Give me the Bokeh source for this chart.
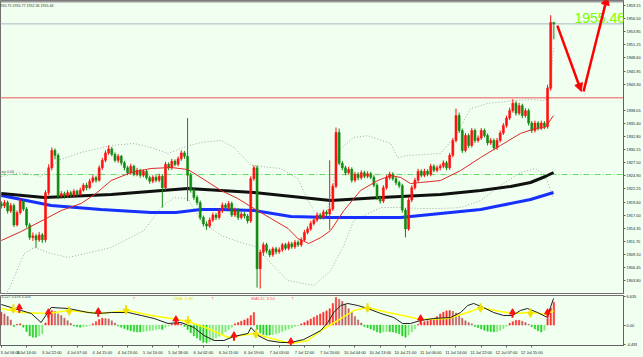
from bokeh.plotting import figure
from bokeh.layouts import column
from bokeh.models import (Range1d, FixedTicker, NumeralTickFormatter, Label, Arrow,
                          NormalHead, BoxAnnotation, ColumnDataSource)
from bokeh.embed import file_html
from bokeh.resources import INLINE

BG = "#F0FFF0"
FONT = "Liberation Sans"

# ---------------- data (bar index, prices) ----------------
first_open = 1919.3
closes = [1918.8, 1919.5, 1917.8, 1918.9, 1915.0, 1917.5, 1919.8, 1918.2, 1915.0, 1912.5,
          1912.8, 1912.0, 1913.0, 1912.0, 1921.5, 1926.5, 1930.0, 1929.0, 1920.8, 1921.3,
          1920.8, 1921.5, 1921.0, 1921.8, 1921.2, 1922.0, 1923.0, 1922.5, 1923.8, 1924.5,
          1924.0, 1926.5, 1928.0, 1929.5, 1930.3, 1929.2, 1928.0, 1928.8, 1927.5, 1926.5,
          1925.5, 1926.8, 1925.2, 1926.0, 1925.0, 1925.8, 1924.5, 1923.8, 1924.6, 1924.0,
          1924.8, 1922.5, 1927.2, 1926.5, 1927.8, 1927.2, 1928.3, 1929.5, 1928.8, 1925.0,
          1922.0, 1920.5, 1919.5, 1916.5, 1915.2, 1914.8, 1916.0, 1917.0, 1916.5, 1917.8,
          1919.0, 1918.5, 1919.3, 1917.0, 1918.0, 1916.5, 1917.2, 1916.8, 1915.8, 1924.3,
          1926.5, 1906.2, 1909.5, 1911.0, 1909.8, 1909.0, 1910.2, 1909.6, 1910.0, 1911.0,
          1910.3, 1911.2, 1910.6, 1911.5, 1911.0, 1912.0, 1913.5, 1914.2, 1915.3, 1916.0,
          1917.0, 1916.5, 1917.6, 1917.2, 1918.2, 1922.8, 1933.6, 1927.4, 1926.5, 1925.5,
          1926.2, 1924.0, 1925.2, 1924.5, 1925.5, 1924.8, 1925.3, 1924.6, 1923.0, 1920.5,
          1919.8, 1922.5, 1924.5, 1925.2, 1924.3, 1923.5, 1922.9, 1918.0, 1914.2, 1920.0,
          1922.5, 1924.0, 1925.8, 1925.0, 1925.8, 1925.2, 1926.8, 1926.0, 1926.5, 1926.8,
          1927.5, 1926.5, 1929.0, 1932.0, 1937.0, 1934.0, 1930.0, 1933.0, 1931.0, 1934.0,
          1932.0, 1932.5, 1934.0, 1933.0, 1931.5, 1932.0, 1930.5, 1932.0, 1933.5, 1935.0,
          1936.5, 1938.0, 1939.5, 1937.5, 1939.0, 1937.0, 1938.0, 1935.5, 1934.0, 1935.5,
          1934.5, 1935.5, 1934.8, 1942.5, 1955.75, 1955.46]
highs = [1919.8, 1920.0, 1919.9, 1919.4, 1919.3, 1917.9, 1920.3, 1920.1, 1918.6, 1915.4,
         1913.5, 1913.2, 1913.6, 1913.4, 1922.0, 1927.2, 1930.6, 1930.4, 1929.4, 1921.8,
         1921.7, 1922.0, 1921.9, 1922.2, 1922.1, 1922.5, 1923.4, 1923.5, 1924.3, 1925.0,
         1924.9, 1927.0, 1928.5, 1930.0, 1931.0, 1930.7, 1929.6, 1929.3, 1929.1, 1927.9,
         1926.9, 1927.3, 1927.1, 1926.5, 1926.3, 1926.2, 1926.1, 1924.9, 1925.0, 1925.0,
         1925.3, 1925.2, 1927.7, 1927.6, 1928.3, 1928.2, 1928.8, 1930.0, 1929.9, 1936.5,
         1925.5, 1922.4, 1921.0, 1919.9, 1916.9, 1915.7, 1916.5, 1917.5, 1917.4, 1918.3,
         1919.5, 1919.4, 1919.8, 1919.7, 1918.5, 1918.4, 1917.7, 1917.6, 1917.2, 1924.8,
         1927.0, 1927.0, 1910.0, 1911.5, 1911.4, 1910.2, 1910.6, 1910.6, 1910.5, 1911.4,
         1911.4, 1911.7, 1911.6, 1912.0, 1911.9, 1912.5, 1914.0, 1914.7, 1915.8, 1916.5,
         1917.5, 1917.4, 1918.1, 1918.0, 1928.0, 1923.3, 1934.6, 1934.4, 1927.9, 1926.9,
         1926.7, 1926.6, 1925.7, 1925.6, 1926.0, 1925.9, 1925.8, 1925.7, 1925.0, 1923.4,
         1920.9, 1923.0, 1925.0, 1925.7, 1925.6, 1924.7, 1923.9, 1923.3, 1918.4, 1920.5,
         1923.0, 1924.5, 1926.3, 1926.2, 1926.3, 1926.2, 1927.3, 1927.2, 1927.0, 1927.3,
         1928.0, 1927.9, 1929.5, 1932.5, 1938.4, 1937.6, 1934.4, 1933.5, 1933.4, 1934.5,
         1934.4, 1933.0, 1934.5, 1934.4, 1933.4, 1932.5, 1932.4, 1932.5, 1934.0, 1935.5,
         1937.0, 1938.6, 1940.3, 1939.9, 1939.6, 1939.4, 1938.5, 1938.4, 1935.9, 1936.0,
         1935.9, 1936.0, 1935.9, 1943.2, 1957.2, 1955.77]
lows = [1918.3, 1918.4, 1917.3, 1917.4, 1914.6, 1914.7, 1917.1, 1917.8, 1914.5, 1912.0,
        1911.8, 1910.4, 1911.6, 1911.4, 1911.5, 1921.0, 1926.0, 1928.2, 1920.2, 1920.3,
        1920.3, 1920.4, 1920.6, 1920.6, 1920.8, 1920.9, 1921.7, 1922.0, 1922.2, 1923.4,
        1923.5, 1923.7, 1926.1, 1927.6, 1929.1, 1928.8, 1927.6, 1927.5, 1927.0, 1926.0,
        1925.0, 1925.1, 1924.8, 1924.8, 1924.5, 1924.6, 1924.1, 1923.3, 1923.4, 1923.6,
        1923.6, 1918.5, 1922.0, 1926.0, 1926.1, 1926.8, 1926.8, 1927.9, 1928.3, 1919.8,
        1921.5, 1920.0, 1919.0, 1916.0, 1914.7, 1914.0, 1914.4, 1915.6, 1916.0, 1916.1,
        1917.4, 1918.0, 1918.1, 1916.6, 1916.6, 1916.0, 1916.1, 1916.3, 1915.3, 1915.4,
        1923.9, 1902.4, 1902.2, 1908.8, 1909.3, 1908.5, 1908.6, 1909.1, 1909.2, 1909.6,
        1909.9, 1909.9, 1910.2, 1910.2, 1910.6, 1910.6, 1911.6, 1913.1, 1913.8, 1914.9,
        1915.6, 1916.1, 1916.1, 1916.8, 1914.0, 1917.8, 1922.4, 1927.0, 1926.0, 1925.0,
        1925.1, 1923.5, 1923.6, 1924.0, 1924.1, 1924.4, 1924.4, 1924.2, 1922.6, 1920.0,
        1919.3, 1919.4, 1922.1, 1924.1, 1923.9, 1923.0, 1922.4, 1917.5, 1912.5, 1913.8,
        1919.6, 1922.1, 1923.6, 1924.6, 1924.6, 1924.8, 1924.8, 1925.6, 1925.6, 1926.0,
        1926.4, 1926.0, 1926.1, 1928.6, 1931.6, 1933.5, 1929.5, 1929.6, 1930.5, 1930.6,
        1931.5, 1931.6, 1932.1, 1932.6, 1931.0, 1931.1, 1930.0, 1930.1, 1931.6, 1933.1,
        1934.6, 1936.1, 1937.6, 1937.0, 1937.1, 1936.5, 1936.6, 1935.0, 1933.5, 1933.6,
        1934.0, 1934.1, 1934.3, 1934.4, 1942.0, 1952.36]

# moving averages / bands (bar index, price)
ma_black_x = [0, 13.6, 34.8, 59.1, 69.6, 80.0, 104.3, 120.2, 139.1, 151.8, 161.3, 167.6, 172.3, 174.9]
ma_black_y = [1921.33, 1920.52, 1921.13, 1922.33, 1921.93, 1921.53, 1919.92, 1920.52, 1921.13,
              1921.93, 1922.74, 1923.54, 1924.75, 1925.55]
ma_blue_x = [0, 15.8, 31.6, 47.4, 55.3, 63.2, 69.6, 80.0, 91.7, 104.3, 126.5, 139.1, 151.8, 158.1, 167.6, 174.9]
ma_blue_y = [1920.93, 1918.91, 1918.11, 1917.51, 1917.51, 1918.11, 1918.11, 1917.91, 1916.70,
             1916.50, 1916.50, 1917.30, 1918.11, 1918.91, 1920.12, 1921.53]
ma_red_x = [0, 6.3, 13.6, 19.0, 25.3, 30.0, 34.8, 41.1, 47.4, 53.8, 59.1, 63.2, 69.6, 74.9, 80.0,
            85.4, 90.8, 93.9, 97.4, 101.2, 104.3, 108.5, 113.8, 119.2, 123.3, 126.5, 129.6, 132.8,
            139.1, 145.5, 151.8, 158.1, 164.4, 169.2, 172.3, 174.9]
ma_red_y = [1911.87, 1913.68, 1916.10, 1917.91, 1919.32, 1921.33, 1923.94, 1925.55, 1926.36,
            1926.56, 1926.16, 1924.55, 1921.93, 1920.32, 1918.31, 1916.30, 1914.29, 1912.27,
            1911.27, 1912.48, 1913.88, 1917.91, 1921.93, 1923.94, 1924.95, 1924.55, 1923.34,
            1923.54, 1923.94, 1925.96, 1928.57, 1930.99, 1933.40, 1934.41, 1934.61, 1937.02]
bb_up_x = [0, 6.3, 12.6, 18.0, 25.3, 34.8, 42.1, 47.4, 52.8, 58.5, 63.2, 69.6, 73.7, 79.1, 88.5,
           93.9, 97.1, 99.0, 101.2, 103.1, 105.0, 106.9, 111.6, 116.0, 123.3, 125.5, 128.7, 139.1,
           143.9, 148.6, 154.0, 162.8, 167.6, 172.3, 173.9, 174.9]
bb_up_y = [1924.75, 1925.55, 1924.75, 1927.97, 1929.58, 1930.99, 1931.39, 1930.58, 1929.38,
           1930.79, 1931.59, 1932.00, 1930.58, 1926.96, 1926.36, 1924.35, 1919.92, 1917.91,
           1916.90, 1917.51, 1922.94, 1929.98, 1932.60, 1932.96, 1931.39, 1928.57, 1928.97,
           1929.38, 1932.96, 1938.43, 1939.44, 1940.04, 1940.24, 1940.04, 1944.06, 1950.50]
bb_lo_x = [0, 2.2, 7.3, 10.4, 15.8, 21.2, 34.8, 45.2, 50.6, 54.7, 59.1, 63.2, 69.6, 75.9, 81.3,
           85.4, 90.8, 99.0, 104.3, 108.5, 111.6, 120.2, 126.5, 132.8, 139.1, 145.5, 151.8, 158.1,
           164.4, 169.2, 172.3, 174.9]
bb_lo_y = [1900.20, 1901.81, 1909.26, 1910.46, 1909.26, 1908.45, 1910.46, 1913.88, 1918.51,
           1920.52, 1920.32, 1915.90, 1912.88, 1911.47, 1910.46, 1907.25, 1903.82, 1902.82,
           1905.84, 1910.87, 1915.90, 1918.51, 1918.51, 1918.31, 1918.31, 1918.51, 1919.92,
           1922.94, 1925.55, 1926.36, 1924.95, 1920.32]

price_ticks = [1959.15, 1956.50, 1953.85, 1951.25, 1948.60, 1945.95, 1943.30, 1938.05, 1935.40,
               1932.80, 1930.15, 1927.50, 1924.90, 1922.25, 1919.60, 1917.00, 1914.35, 1911.70,
               1909.10, 1906.45, 1903.80, 1901.20]
last_price = 1955.46
red_level = 1940.60
green_level = 1925.15
ohlc_text = "1955.75 1955.77 1952.36 1955.46"
# hand-drawn forecast arrow path (bar index, price)
arrow_x = [176.1, 183.7, 184.4, 191.9]
arrow_y = [1955.1, 1941.85, 1941.85, 1960.9]

# MACD panel
macd_hist = [3.0, 2.6, 2.0, 1.2,
             -0.3, 0.2, 0.3, -0.5, -1.5, -2.5, -2.8, -2.8, -2.5, -2.0,
             0.5, 2.5, 3.4, 3.2, 2.6, 2.2, 1.6, 1.0, 0.4,
             -0.2, -0.4, -0.5, -0.4, -0.3, -0.1,
             0.3, 0.8, 1.3, 1.6, 1.5, 1.4, 1.0, 0.5,
             -0.2, -0.5, -0.8, -1.1, -1.3, -1.5, -1.6, -1.6, -1.5, -1.4, -1.3, -1.2, -1.0, -0.9, -1.0, -0.5, -0.2,
             0.2, 0.4, 0.5, 0.3,
             -0.3, -1.0, -1.8, -2.5, -3.0, -3.5, -4.0, -4.1, -3.8, -3.5, -3.0, -2.6, -2.2, -1.6, -1.0, -0.5,
             0.3, 0.6, 0.9, 1.2, 1.5, 2.2, 2.9,
             -1.0, -1.8, -2.2, -2.3, -2.3, -2.2, -2.0, -1.8, -1.5, -1.2, -0.9, -0.6, -0.3, -0.1,
             0.3, 0.6, 1.0, 1.4, 1.8, 2.2, 2.6, 3.0, 3.3, 3.8, 5.0, 6.4, 6.0, 5.5, 4.8, 3.8, 3.0, 2.0, 1.2, 0.5,
             -0.3, -0.6, -0.9, -1.2, -1.6, -1.8, -1.6, -1.5, -1.5, -1.6, -1.8, -2.0, -2.5, -2.8, -2.3, -1.6, -0.9,
             0.2, 0.5, 0.8, 1.0, 1.3, 1.6, 2.0, 2.6, 3.0, 3.3, 3.4, 3.2, 2.8, 2.2, 1.6, 1.0, 0.6, 0.3,
             -0.3, -0.6, -0.9, -1.2, -1.4, -1.5, -1.6, -1.5, -1.2, -0.8, -0.3,
             0.4, 0.8, 1.1, 1.1, 0.9, 0.6, 0.2,
             -0.4, -0.9, -1.3, -1.6, -1.2,
             1.5, 4.0, 5.3]
dif_x = [0, 4.1, 9.5, 12.6, 15.8, 21.2, 27.5, 30.7, 34.8, 40.2, 44.3, 48.4, 52.8, 56.9, 61.0, 64.2,
         67.4, 70.5, 73.7, 78.1, 79.1, 81.3, 84.4, 88.5, 91.7, 95.8, 101.2, 103.4, 105.3, 107.5,
         109.7, 112.9, 116.0, 120.2, 124.3, 127.1, 129.6, 132.8, 136.9, 142.3, 145.5, 147.7, 149.6,
         152.7, 155.9, 159.1, 161.9, 164.4, 166.6, 169.8, 173.0, 173.9, 174.9]
dif_y = [4.78, 3.85, 2.69, 0.60, 4.08, 3.85, 2.92, 2.69, 2.92, 2.92, 2.23, 1.53, 0.37, 0.60, -0.56,
         -2.41, -3.57, -3.57, -2.64, -1.95, -0.56, -2.41, -3.57, -4.03, -4.03, -3.34, -1.25, 0.60,
         2.92, 4.54, 5.01, 4.54, 3.85, 2.69, 1.76, 0.37, 0.37, 1.07, 1.53, 1.76, 2.92, 4.54, 5.01,
         4.08, 2.92, 2.23, 2.23, 3.38, 3.85, 2.92, 1.76, 4.08, 6.17]
dea_x = [0, 6.3, 14.9, 21.2, 31.6, 40.2, 47.4, 56.0, 60.1, 65.5, 71.8, 80.0, 84.4, 91.7, 97.1,
         101.2, 106.6, 111.6, 116.0, 122.4, 128.7, 132.8, 141.3, 147.7, 151.8, 158.1, 162.2, 167.6,
         173.0, 174.9]
dea_y = [3.85, 2.92, 2.69, 3.38, 2.69, 3.38, 2.23, 1.30, 0.60, -0.79, -2.87, -1.95, -2.87, -4.27,
         -3.57, -1.25, 1.07, 3.38, 4.08, 2.92, 1.99, 1.30, 1.53, 2.92, 4.08, 3.15, 2.69, 2.92, 2.46,
         3.38]
cross_dn_x = [3.8, 21.5, 39.5, 59.1, 80.6, 116.0, 151.8, 167.6]
cross_dn_y = [3.85, 3.38, 3.61, 1.07, -1.95, 4.08, 4.08, 2.92]
cross_up_x = [5.7, 14.9, 30.7, 55.3, 73.7, 91.7, 132.8, 161.9, 173.0]
cross_up_y = [3.85, 2.69, 2.92, 1.07, -2.64, -4.03, 1.30, 2.69, 2.69]
macd_ticks = [6.635, 0.0, -4.491]
macd_tick_labels = ["6.635", "0.00", "-4.491"]

time_labels = ["3 Jul 06:00", "3 Jul 14:00", "3 Jul 22:00", "4 Jul 07:00", "4 Jul 15:00",
               "4 Jul 23:00", "5 Jul 10:00", "5 Jul 18:00", "6 Jul 02:00", "6 Jul 11:00",
               "6 Jul 19:00", "7 Jul 03:00", "7 Jul 12:00", "7 Jul 20:00", "10 Jul 04:00",
               "10 Jul 13:00", "10 Jul 21:00", "11 Jul 06:00", "11 Jul 14:00", "11 Jul 22:00",
               "12 Jul 07:00", "12 Jul 15:00"]
label_every = 8

n = len(closes)
assert len(highs) == n and len(lows) == n and len(macd_hist) == n
opens = [first_open] + closes[:-1]
idx = list(range(n))

# ---------------- main price panel ----------------
xr = Range1d(-0.25, 197.05)
p1 = figure(width=643, height=294, x_range=xr, y_range=Range1d(1901.21, 1960.16),
            output_backend="svg", toolbar_location=None, y_axis_location="right",
            x_axis_location=None, min_border_left=0, min_border_right=19,
            min_border_top=0, min_border_bottom=1,
            background_fill_color=BG, border_fill_color=BG)
p1.grid.visible = False
p1.outline_line_color = "#707070"

ya = p1.yaxis[0]
ya.ticker = FixedTicker(ticks=price_ticks)
ya.formatter = NumeralTickFormatter(format="0.00")
ya.major_label_text_font = FONT
ya.major_label_text_font_size = "3.9px"
ya.major_label_text_color = "#202020"
ya.major_label_standoff = 1
ya.major_tick_out = 2
ya.major_tick_in = 0
ya.minor_tick_out = 0
ya.minor_tick_in = 0
ya.axis_line_color = "#606060"
ya.major_tick_line_color = "#606060"

# gray strip at top
p1.add_layout(BoxAnnotation(bottom=1959.76, fill_color="#9A9A9A", fill_alpha=1.0, line_alpha=0))

# horizontal level lines
x_end = xr.end
p1.segment(x0=[xr.start], x1=[x_end], y0=[last_price], y1=[last_price], line_color="#A8B8C4", line_width=1)
p1.segment(x0=[xr.start], x1=[x_end], y0=[red_level], y1=[red_level], line_color="#F09088", line_width=1.5)
p1.segment(x0=[xr.start], x1=[x_end], y0=[green_level], y1=[green_level], line_color="#66DD66",
           line_width=1, line_dash="6 2 1 2")

# bollinger bands (dotted) and averages
p1.line(bb_up_x, bb_up_y, line_color="#A8A8A8", line_width=1, line_dash="1 2")
p1.line(bb_lo_x, bb_lo_y, line_color="#A8A8A8", line_width=1, line_dash="1 2")
p1.line(ma_blue_x, ma_blue_y, line_color="#1530FF", line_width=3)
p1.line(ma_black_x, ma_black_y, line_color="#101010", line_width=3)

# candles (red = up, green = down)
UP, DN = "#FF1010", "#128A12"
colors = [UP if c >= o else DN for o, c in zip(opens, closes)]
src = ColumnDataSource(dict(x=idx, o=opens, c=closes, h=highs, l=lows,
                            top=[max(o, c) for o, c in zip(opens, closes)],
                            bot=[min(o, c) for o, c in zip(opens, closes)], col=colors))
p1.segment(x0="x", x1="x", y0="h", y1="l", line_color="col", line_width=1, source=src)
p1.vbar(x="x", width=0.62, top="top", bottom="bot", fill_color="col", line_color="col",
        line_width=0.6, source=src)

p1.line(ma_red_x, ma_red_y, line_color="#E02828", line_width=1)

# texts
p1.add_layout(Label(x=xr.start, y=1959.0, text=ohlc_text, x_offset=-2, text_font=FONT,
                    text_font_size="3.6px", text_color="#303030", text_baseline="middle"))
p1.add_layout(Label(x=181.5, y=1956.7, text="1955.46", text_font=FONT, text_font_size="14px",
                    text_color="#7CFC00", text_baseline="alphabetic"))
p1.add_layout(Label(x=xr.start, y=green_level, text="wy 0.00", text_font=FONT, x_offset=1,
                    text_font_size="3.6px", text_color="#505050", text_baseline="bottom", y_offset=1))

# forecast arrows
for k in (0, 2):
    p1.add_layout(Arrow(x_start=arrow_x[k], y_start=arrow_y[k], x_end=arrow_x[k + 1], y_end=arrow_y[k + 1],
                        line_color="#FF0000", line_width=2.5,
                        end=NormalHead(size=8, fill_color="#FF0000", line_color="#FF0000")))

# price tags on axis
p1.add_layout(Label(x=x_end, y=last_price, text="1955.46", x_offset=1, text_font=FONT,
                    text_font_size="3.9px", text_color="white", text_baseline="middle",
                    background_fill_color="#101010", padding=1))
p1.add_layout(Label(x=x_end, y=red_level, text="1940.60", x_offset=1, text_font=FONT,
                    text_font_size="3.9px", text_color="white", text_baseline="middle",
                    background_fill_color="#F03030", padding=1))

# ---------------- MACD panel ----------------
p2 = figure(width=643, height=63, x_range=xr, y_range=Range1d(-4.73, 6.86),
            output_backend="svg", toolbar_location=None, y_axis_location="right",
            min_border_left=0, min_border_right=19, min_border_top=1, min_border_bottom=12,
            background_fill_color=BG, border_fill_color=BG)
p2.grid.visible = False
p2.outline_line_color = "#707070"

hist_colors = []
for i, h in enumerate(macd_hist):
    p = macd_hist[i - 1] if i > 0 else h
    if h >= 0:
        hist_colors.append("#FF2A2A" if h >= p else "#C06060")
    else:
        hist_colors.append("#22D022" if h <= p else "#80E878")
p2.vbar(x=idx, top=macd_hist, bottom=0, width=0.42, fill_color=hist_colors, line_color=hist_colors,
        line_width=0.5)
p2.line(dea_x, dea_y, line_color="#FFFF00", line_width=1.5)
p2.line(dif_x, dif_y, line_color="#202020", line_width=1)

p2.segment(x0=cross_up_x, x1=cross_up_x, y0=[v - 1.0 for v in cross_up_y], y1=cross_up_y,
           line_color="#FF1010", line_width=2)
p2.scatter(cross_up_x, [v + 0.3 for v in cross_up_y], marker="triangle", size=6,
           fill_color="#FF1010", line_color="#FF1010")
p2.segment(x0=cross_dn_x, x1=cross_dn_x, y0=[v + 1.0 for v in cross_dn_y], y1=cross_dn_y,
           line_color="#F0E000", line_width=2)
p2.scatter(cross_dn_x, [v - 0.3 for v in cross_dn_y], marker="inverted_triangle", size=6,
           fill_color="#F0E000", line_color="#F0E000")

ya2 = p2.yaxis[0]
ya2.ticker = FixedTicker(ticks=macd_ticks)
ya2.major_label_overrides = {t: s for t, s in zip(macd_ticks, macd_tick_labels)}
ya2.major_label_text_font = FONT
ya2.major_label_text_font_size = "3.9px"
ya2.major_label_text_color = "#202020"
ya2.major_label_standoff = 1
ya2.major_tick_out = 2
ya2.major_tick_in = 0
ya2.minor_tick_out = 0
ya2.minor_tick_in = 0
ya2.axis_line_color = "#606060"
ya2.major_tick_line_color = "#606060"

xa = p2.xaxis[0]
tick_pos = [k * label_every for k in range(len(time_labels))]
xa.ticker = FixedTicker(ticks=tick_pos)
xa.major_label_overrides = {t: s for t, s in zip(tick_pos, time_labels)}
xa.major_label_text_align = "left"
xa.major_label_text_font = FONT
xa.major_label_text_font_size = "4px"
xa.major_label_text_color = "#202020"
xa.major_label_standoff = 2
xa.major_tick_out = 2
xa.major_tick_in = 0
xa.minor_tick_out = 0
xa.minor_tick_in = 0
xa.axis_line_color = "#606060"
xa.major_tick_line_color = "#606060"

p2.add_layout(Label(x=xr.start, y=6.4, text="4.227 3.476 3.503", x_offset=1, text_font=FONT,
                    text_font_size="3.6px", text_color="#404040", text_baseline="middle"))
p2.add_layout(Label(x=54.5, y=6.2, text="DEA:  2.48", text_font=FONT, text_font_size="4.3px",
                    text_color="#E8E000", text_baseline="middle"))
p2.add_layout(Label(x=79.2, y=6.2, text="MACD:  3.50", text_font=FONT, text_font_size="4.3px",
                    text_color="#FF5050", text_baseline="middle"))
for xx in (42.0, 67.0, 92.3):
    p2.add_layout(Label(x=xx, y=6.2, text="↑", text_font=FONT, text_font_size="5px",
                        text_color="#FF4040", text_baseline="middle", text_align="center"))

layout = column(p1, p2, spacing=0)
open("out.html", "w").write(file_html(layout, INLINE))
